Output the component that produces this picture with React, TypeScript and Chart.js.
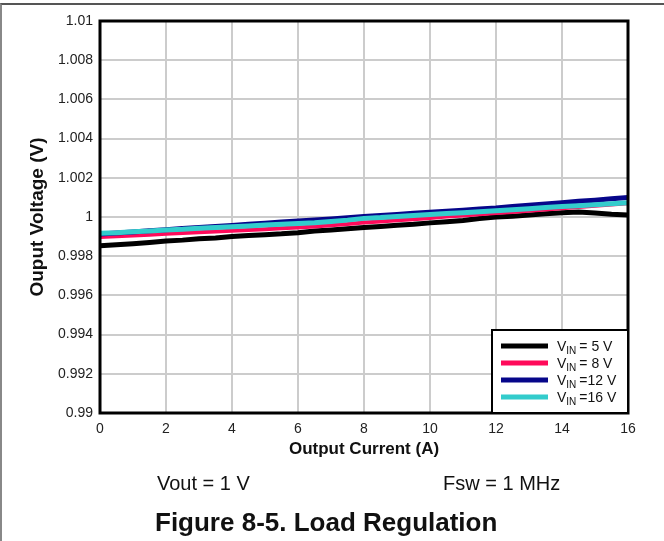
import React, { useEffect, useRef } from "react";
import { Chart, registerables } from "chart.js";

Chart.register(...registerables);

const FONT = '"Liberation Sans", Arial, Helvetica, sans-serif';

const currents = [0, 0.5, 1, 1.5, 2, 2.5, 3, 3.5, 4, 4.5, 5, 5.5, 6, 6.5, 7, 7.5, 8, 8.5, 9, 9.5, 10, 10.5, 11, 11.5, 12, 12.5, 13, 13.5, 14, 14.5, 15, 15.5, 16];

const vin5 = [0.99853, 0.99858, 0.99864, 0.9987, 0.99877, 0.99882, 0.99889, 0.99893, 0.999, 0.99906, 0.9991, 0.99914, 0.9992, 0.99928, 0.99934, 0.9994, 0.99947, 0.99952, 0.99958, 0.99963, 0.9997, 0.99976, 0.99982, 0.99992, 1.0, 1.00004, 1.0001, 1.00016, 1.00022, 1.00026, 1.0002, 1.00014, 1.0001];
const vin8 = [0.99898, 0.99902, 0.99906, 0.9991, 0.99915, 0.99918, 0.99922, 0.99926, 0.9993, 0.99934, 0.99938, 0.99942, 0.99947, 0.99952, 0.99958, 0.99964, 0.99972, 0.99977, 0.99983, 0.99989, 0.99995, 1.00002, 1.00008, 1.00014, 1.0002, 1.00026, 1.00032, 1.00038, 1.00045, 1.00051, 1.00057, 1.00064, 1.0007];
const vin12 = [0.99913, 0.99918, 0.99924, 0.9993, 0.99935, 0.99941, 0.99946, 0.99952, 0.99957, 0.99963, 0.99968, 0.99974, 0.99979, 0.99985, 0.9999, 0.99996, 1.00002, 1.00008, 1.00013, 1.00019, 1.00024, 1.0003, 1.00035, 1.00041, 1.00046, 1.00053, 1.0006, 1.00066, 1.00073, 1.0008, 1.00086, 1.00093, 1.001];
const vin16 = [0.99917, 0.9992, 0.99925, 0.99928, 0.99934, 0.99937, 0.99942, 0.99946, 0.9995, 0.99954, 0.99959, 0.99963, 0.99967, 0.99971, 0.99977, 0.99984, 0.99993, 0.99997, 1.00003, 1.00008, 1.00013, 1.00018, 1.00022, 1.00027, 1.00032, 1.00037, 1.00042, 1.00048, 1.00053, 1.00058, 1.00063, 1.00068, 1.00073];

const legendSuffixes = ["= 5 V", "= 8 V", "=12 V", "=16 V"];
const seriesColors = ["#000000", "#ff0a5a", "#06068a", "#33cccc"];
const seriesWidths = [5, 4, 5, 5];
const seriesOrder = [3, 2, 1, 0];

const xTicks = [0, 2, 4, 6, 8, 10, 12, 14, 16];
const yTicks = [0.99, 0.992, 0.994, 0.996, 0.998, 1.0, 1.002, 1.004, 1.006, 1.008, 1.01];
const yTickLabels = ["0.99", "0.992", "0.994", "0.996", "0.998", "1", "1.002", "1.004", "1.006", "1.008", "1.01"];

const frameAndLegend = {
  id: "frameAndLegend",
  afterDatasetsDraw(chart: any) {
    const { ctx, chartArea } = chart;
    const { left, top, right, bottom } = chartArea;
    ctx.save();
    ctx.strokeStyle = "#000";
    ctx.lineWidth = 3;
    ctx.strokeRect(left, top, right - left, bottom - top);

    const w = 136;
    const h = 83;
    const x0 = right - w;
    const y0 = bottom - h;
    ctx.fillStyle = "#fff";
    ctx.fillRect(x0, y0, w, h);
    ctx.lineWidth = 2;
    ctx.strokeRect(x0, y0, w, h);

    const datasets = chart.data.datasets;
    for (let i = 0; i < datasets.length; i++) {
      const cy = y0 + 16 + i * 17;
      ctx.strokeStyle = datasets[i].borderColor;
      ctx.lineWidth = 5;
      ctx.beginPath();
      ctx.moveTo(x0 + 9, cy);
      ctx.lineTo(x0 + 56, cy);
      ctx.stroke();

      ctx.fillStyle = "#111";
      ctx.textBaseline = "alphabetic";
      ctx.textAlign = "left";
      let tx = x0 + 65;
      const base = cy + 5;
      ctx.font = `14px ${FONT}`;
      ctx.fillText("V", tx, base);
      tx += ctx.measureText("V").width;
      ctx.font = `10px ${FONT}`;
      ctx.fillText("IN", tx, base + 3);
      tx += ctx.measureText("IN").width + 3;
      ctx.font = `14px ${FONT}`;
      ctx.fillText(legendSuffixes[i], tx, base);
    }
    ctx.restore();
  },
};

export default function App() {
  const ref = useRef<HTMLCanvasElement>(null);

  useEffect(() => {
    const series = [vin5, vin8, vin12, vin16];
    const chart = new Chart(ref.current as HTMLCanvasElement, {
      type: "line",
      data: {
        datasets: series.map((vals, i) => ({
          label: "VIN " + legendSuffixes[i],
          data: currents.map((x, j) => ({ x, y: vals[j] })),
          borderColor: seriesColors[i],
          backgroundColor: seriesColors[i],
          borderWidth: seriesWidths[i],
          pointRadius: 0,
          tension: 0,
          fill: false,
          order: seriesOrder[i],
        })),
      },
      options: {
        responsive: false,
        animation: false,
        devicePixelRatio: 1,
        layout: { padding: { left: 0, top: 21, right: 36, bottom: 71 } },
        plugins: { legend: { display: false }, tooltip: { enabled: false } },
        scales: {
          x: {
            type: "linear",
            min: 0,
            max: 16,
            afterBuildTicks: (s: any) => {
              s.ticks = xTicks.map((v) => ({ value: v }));
            },
            afterFit: (s: any) => {
              s.height = 57;
            },
            grid: { color: "#cccccc", lineWidth: 2, drawTicks: false },
            border: { display: false },
            ticks: {
              padding: 8,
              color: "#222",
              maxRotation: 0,
              autoSkip: false,
              font: { family: FONT, size: 14 },
              callback: (v: any) => String(v),
            },
            title: {
              display: true,
              text: "Output Current (A)",
              color: "#111",
              font: { family: FONT, size: 17, weight: "bold" },
              padding: { top: 0, bottom: 10 },
            },
          },
          y: {
            type: "linear",
            min: 0.99,
            max: 1.01,
            afterBuildTicks: (s: any) => {
              s.ticks = yTicks.map((v) => ({ value: v }));
            },
            afterFit: (s: any) => {
              s.width = 100;
            },
            grid: { color: "#cccccc", lineWidth: 2, drawTicks: false },
            border: { display: false },
            ticks: {
              padding: 7,
              color: "#222",
              autoSkip: false,
              font: { family: FONT, size: 14 },
              callback: (_v: any, i: number) => yTickLabels[i],
            },
            title: {
              display: true,
              text: "Ouput Voltage (V)",
              color: "#111",
              font: { family: FONT, size: 19, weight: "bold" },
              padding: { top: 26, bottom: 0 },
            },
          },
        },
      } as any,
      plugins: [frameAndLegend],
    });
    return () => chart.destroy();
  }, []);

  return (
    <div
      style={{
        position: "fixed",
        left: 0,
        top: 0,
        width: 664,
        height: 541,
        background: "#fff",
        overflow: "hidden",
        fontFamily: FONT,
        color: "#111",
      }}
    >
      <div
        style={{
          position: "absolute",
          left: 0,
          top: 3,
          width: 720,
          height: 600,
          borderTop: "2px solid #555",
          borderLeft: "2px solid #888",
        }}
      />
      <canvas
        ref={ref}
        width={664}
        height={541}
        style={{ position: "absolute", left: 0, top: 0, width: 664, height: 541 }}
      />
      <div style={{ position: "absolute", left: 157, top: 473, fontSize: 20, lineHeight: 1, whiteSpace: "nowrap" }}>
        Vout = 1 V
      </div>
      <div style={{ position: "absolute", left: 443, top: 473, fontSize: 20, lineHeight: 1, whiteSpace: "nowrap" }}>
        Fsw = 1 MHz
      </div>
      <div
        style={{
          position: "absolute",
          left: 155,
          top: 509,
          fontSize: 26,
          fontWeight: "bold",
          lineHeight: 1,
          whiteSpace: "nowrap",
        }}
      >
        Figure 8-5. Load Regulation
      </div>
    </div>
  );
}
